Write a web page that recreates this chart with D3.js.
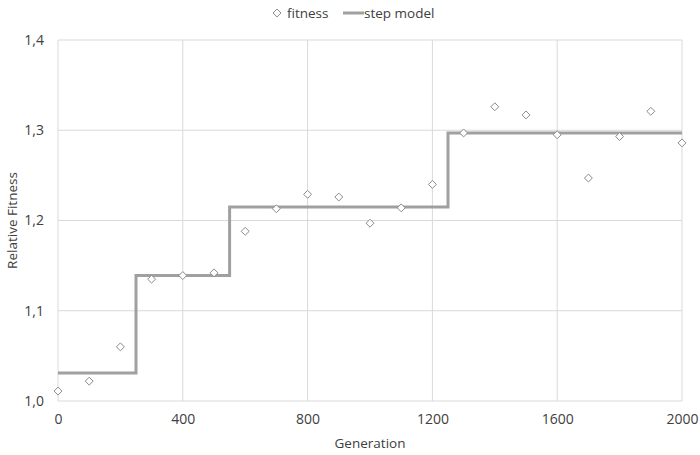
<!DOCTYPE html>
<html>
<head>
<meta charset="utf-8">
<script src="https://cdn.jsdelivr.net/npm/d3@7"></script>
<style>
  body { margin: 0; background: #fff; }
  text { font-family: "Open Sans", "Liberation Sans", sans-serif; fill: #404040; }
</style>
</head>
<body>
<div id="chart"></div>
<script>
const generations = [0, 100, 200, 300, 400, 500, 600, 700, 800, 900, 1000,
                     1100, 1200, 1300, 1400, 1500, 1600, 1700, 1800, 1900, 2000];
const fitness = [1.011, 1.022, 1.060, 1.135, 1.139, 1.142, 1.188, 1.213, 1.229, 1.226, 1.197,
                 1.214, 1.240, 1.297, 1.326, 1.317, 1.295, 1.247, 1.293, 1.321, 1.286];
// step model: level holds from stepStart[i] to stepStart[i+1]
const stepStart = [0, 250, 550, 1250, 2000];
const stepLevel = [1.031, 1.139, 1.215, 1.297, 1.297];
const xTicks = [0, 400, 800, 1200, 1600, 2000];
const yTicks = [1.0, 1.1, 1.2, 1.3, 1.4];

const width = 700, height = 455;
const margin = { top: 40, right: 18, bottom: 54, left: 58 };

const svg = d3.select("#chart").append("svg")
    .attr("width", width)
    .attr("height", height);

const x = d3.scaleLinear().domain([0, 2000]).range([margin.left, width - margin.right]);
const y = d3.scaleLinear().domain([1.0, 1.4]).range([height - margin.bottom, margin.top]);

// grid
svg.append("g").selectAll("line.v")
  .data(xTicks).enter().append("line")
    .attr("x1", d => x(d)).attr("x2", d => x(d))
    .attr("y1", y(1.0)).attr("y2", y(1.4))
    .attr("stroke", "#d9d9d9").attr("stroke-width", 1);
svg.append("g").selectAll("line.h")
  .data(yTicks).enter().append("line")
    .attr("x1", x(0)).attr("x2", x(2000))
    .attr("y1", d => y(d)).attr("y2", d => y(d))
    .attr("stroke", "#d9d9d9").attr("stroke-width", 1);

// axes (labels only)
const fmt = d => d3.format(".1f")(d).replace(".", ",");
const yAxis = svg.append("g")
    .attr("transform", `translate(${margin.left},0)`)
    .call(d3.axisLeft(y).tickValues(yTicks).tickFormat(fmt).tickSize(0).tickPadding(14));
const xAxis = svg.append("g")
    .attr("transform", `translate(0,${height - margin.bottom})`)
    .call(d3.axisBottom(x).tickValues(xTicks).tickFormat(d3.format("d")).tickSize(0).tickPadding(13));
[xAxis, yAxis].forEach(a => {
  a.select(".domain").remove();
  a.selectAll("text").style("font-size", "14px").attr("fill", "#404040");
});

// step model line
const stepData = stepStart.map((g, i) => [g, stepLevel[i]]);
svg.append("path")
    .datum(stepData)
    .attr("fill", "none")
    .attr("stroke", "#a0a0a0")
    .attr("stroke-width", 3)
    .attr("d", d3.line().x(d => x(d[0])).y(d => y(d[1])).curve(d3.curveStepAfter));

// fitness markers
const diamond = d3.symbol().type(d3.symbolDiamond2).size(40);
svg.append("g").selectAll("path")
  .data(generations.map((g, i) => [g, fitness[i]]))
  .enter().append("path")
    .attr("d", diamond)
    .attr("transform", d => `translate(${x(d[0])},${y(d[1])})`)
    .attr("fill", "#fff")
    .attr("stroke", "#8a8a8a")
    .attr("stroke-width", 1);

// axis titles
svg.append("text")
    .attr("x", (x(0) + x(2000)) / 2).attr("y", 448)
    .attr("text-anchor", "middle")
    .style("font-size", "13.5px")
    .text("Generation");
svg.append("text")
    .attr("transform", `translate(17,${(y(1.0) + y(1.4)) / 2}) rotate(-90)`)
    .attr("text-anchor", "middle")
    .style("font-size", "13.5px")
    .text("Relative Fitness");

// legend
const lg = svg.append("g").attr("transform", "translate(277,13)");
lg.append("path").attr("d", diamond).attr("fill", "#fff").attr("stroke", "#8a8a8a");
lg.append("text").attr("x", 10).attr("y", 5).style("font-size", "13.5px").text("fitness");
lg.append("line").attr("x1", 66).attr("x2", 87).attr("y1", 0).attr("y2", 0)
    .attr("stroke", "#a0a0a0").attr("stroke-width", 3);
lg.append("text").attr("x", 87).attr("y", 5).style("font-size", "13.5px").text("step model");
</script>
</body>
</html>
